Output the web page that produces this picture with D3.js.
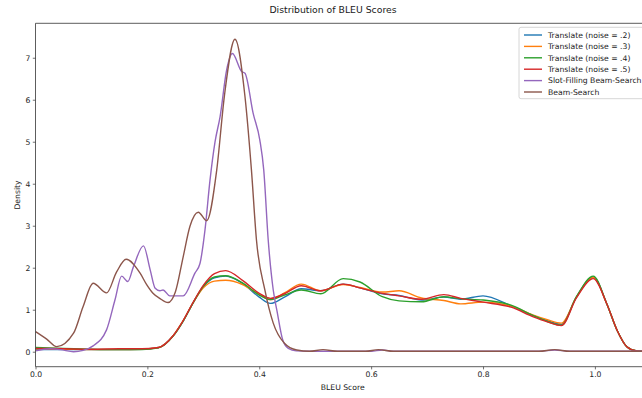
<!DOCTYPE html>
<html>
<head>
<meta charset="utf-8">
<script src="https://cdn.jsdelivr.net/npm/d3@7"></script>
<style>
  html, body { margin: 0; padding: 0; background: #fff; overflow: hidden; }
  svg { display: block; font-family: "DejaVu Sans", sans-serif; }
</style>
</head>
<body>
<svg id="chart" width="642" height="398"></svg>
<script>
// BLEU grid shared by the four "Translate" density curves
const translateX = [0, 0.05, 0.10, 0.15, 0.19, 0.22, 0.246, 0.264, 0.282, 0.30, 0.32, 0.34, 0.37, 0.40, 0.42, 0.445, 0.475, 0.51, 0.55, 0.58, 0.62, 0.65, 0.69, 0.73, 0.76, 0.80, 0.85, 0.89, 0.915, 0.94, 0.967, 0.997, 1.021, 1.04, 1.057, 1.075, 1.10];
const noise2 = [0.06, 0.05, 0.05, 0.05, 0.06, 0.10, 0.38, 0.73, 1.17, 1.55, 1.76, 1.80, 1.63, 1.30, 1.15, 1.30, 1.50, 1.45, 1.61, 1.52, 1.38, 1.34, 1.23, 1.30, 1.25, 1.33, 1.09, 0.86, 0.74, 0.65, 1.30, 1.78, 1.15, 0.50, 0.12, 0.02, 0];
const noise3 = [0.07, 0.06, 0.05, 0.05, 0.06, 0.10, 0.38, 0.74, 1.17, 1.52, 1.68, 1.70, 1.60, 1.36, 1.24, 1.40, 1.61, 1.45, 1.60, 1.53, 1.42, 1.45, 1.28, 1.22, 1.14, 1.18, 1.09, 0.87, 0.76, 0.68, 1.30, 1.77, 1.15, 0.50, 0.12, 0.02, 0];
const noise4 = [0.10, 0.08, 0.06, 0.05, 0.05, 0.09, 0.37, 0.73, 1.17, 1.56, 1.78, 1.81, 1.64, 1.35, 1.24, 1.35, 1.47, 1.38, 1.74, 1.66, 1.31, 1.21, 1.19, 1.31, 1.26, 1.23, 1.11, 0.86, 0.72, 0.63, 1.31, 1.80, 1.15, 0.50, 0.12, 0.02, 0];
const noise5 = [0.08, 0.07, 0.06, 0.07, 0.07, 0.10, 0.38, 0.74, 1.18, 1.58, 1.86, 1.93, 1.70, 1.39, 1.27, 1.38, 1.57, 1.45, 1.61, 1.52, 1.39, 1.33, 1.25, 1.36, 1.27, 1.18, 1.06, 0.83, 0.71, 0.62, 1.28, 1.74, 1.15, 0.50, 0.12, 0.02, 0];

// Slot-Filling Beam-Search density
const slotX = [0, 0.026, 0.045, 0.068, 0.085, 0.103, 0.127, 0.142, 0.154, 0.165, 0.175, 0.193, 0.205, 0.214, 0.2225, 0.228, 0.24, 0.264, 0.285, 0.294, 0.303, 0.312, 0.321, 0.33, 0.3417, 0.352, 0.3685, 0.3745, 0.389, 0.401, 0.408, 0.416, 0.425, 0.432, 0.442, 0.452, 0.466, 0.49, 0.60, 0.62, 0.64, 0.90, 0.928, 0.955, 1.10];
const slotY = [0.02, 0.07, 0.05, 0.0, 0.03, 0.14, 0.52, 1.23, 1.80, 1.67, 2.02, 2.52, 1.95, 1.51, 1.45, 1.47, 1.33, 1.33, 1.87, 2.10, 2.90, 4.09, 5.0, 5.6, 6.71, 7.10, 6.67, 6.63, 5.68, 5.04, 4.33, 2.66, 1.47, 0.95, 0.28, 0.08, 0.02, 0.01, 0.01, 0.04, 0.01, 0.01, 0.04, 0.01, 0.01];

// Beam-Search density
const beamX = [0, 0.02, 0.038, 0.068, 0.085, 0.103, 0.127, 0.145, 0.162, 0.187, 0.199, 0.21, 0.222, 0.237, 0.25, 0.264, 0.276, 0.291, 0.306, 0.324, 0.3375, 0.3566, 0.3745, 0.386, 0.395, 0.41, 0.425, 0.445, 0.467, 0.49, 0.514, 0.54, 0.59, 0.613, 0.64, 0.90, 0.928, 0.955, 1.10];
const beamY = [0.48, 0.30, 0.12, 0.44, 1.07, 1.63, 1.40, 1.90, 2.20, 1.87, 1.59, 1.39, 1.27, 1.17, 1.42, 2.26, 2.98, 3.32, 3.12, 4.33, 6.07, 7.44, 6.07, 4.33, 2.66, 1.47, 0.68, 0.20, 0.04, 0.01, 0.05, 0.01, 0.01, 0.05, 0.01, 0.01, 0.05, 0.01, 0.01];

const seriesNames = ["Translate (noise = .2)", "Translate (noise = .3)", "Translate (noise = .4)", "Translate (noise = .5)", "Slot-Filling Beam-Search", "Beam-Search"];
const seriesColors = ["#1f77b4", "#ff7f0e", "#2ca02c", "#d62728", "#9467bd", "#8c564b"];
const xTicks = [0.0, 0.2, 0.4, 0.6, 0.8, 1.0];
const yTicks = [0, 1, 2, 3, 4, 5, 6, 7];

const series = [
  { x: translateX, y: noise2 },
  { x: translateX, y: noise3 },
  { x: translateX, y: noise4 },
  { x: translateX, y: noise5 },
  { x: slotX, y: slotY },
  { x: beamX, y: beamY }
].map((s, i) => ({ name: seriesNames[i], color: seriesColors[i], points: s.x.map((v, j) => [v, s.y[j]]) }));

const plot = { left: 35.5, right: 650, top: 23.3, bottom: 366.7 };
const x = d3.scaleLinear().domain([0, 1.0985]).range([plot.left, plot.right]);
const y = d3.scaleLinear().domain([-0.357, 7.82]).range([plot.bottom, plot.top]);

const svg = d3.select("#chart");
const fs = 7.7;

svg.append("defs").append("clipPath").attr("id", "plot-clip")
  .append("rect")
  .attr("x", plot.left).attr("y", plot.top)
  .attr("width", plot.right - plot.left).attr("height", plot.bottom - plot.top);

// density curves
const line = d3.line()
  .x(d => x(d[0]))
  .y(d => y(d[1]))
  .curve(d3.curveMonotoneX);

svg.append("g").attr("clip-path", "url(#plot-clip)")
  .selectAll("path")
  .data(series)
  .join("path")
  .attr("d", d => line(d.points))
  .attr("fill", "none")
  .attr("stroke", d => d.color)
  .attr("stroke-width", 1.4)
  .attr("stroke-linejoin", "round");

// axes
const xAxis = d3.axisBottom(x).tickValues(xTicks).tickFormat(d3.format(".1f")).tickSize(2.7).tickPadding(2.5);
const yAxis = d3.axisLeft(y).tickValues(yTicks).tickFormat(d3.format("d")).tickSize(2.7).tickPadding(2.5);

const gx = svg.append("g").attr("transform", `translate(0,${plot.bottom})`).call(xAxis);
const gy = svg.append("g").attr("transform", `translate(${plot.left},0)`).call(yAxis);
[gx, gy].forEach(g => {
  g.select(".domain").remove();
  g.selectAll(".tick line").attr("stroke", "#333").attr("stroke-width", 0.7);
  g.selectAll(".tick text").attr("fill", "#262626").attr("font-size", fs).attr("font-family", "DejaVu Sans");
});

// spines
const spines = svg.append("g").attr("stroke", "#333").attr("stroke-width", 0.8).attr("fill", "none");
spines.append("line").attr("x1", plot.left).attr("x2", plot.left).attr("y1", plot.top).attr("y2", plot.bottom);
spines.append("line").attr("x1", plot.left).attr("x2", plot.right).attr("y1", plot.bottom).attr("y2", plot.bottom);
spines.append("line").attr("x1", plot.left).attr("x2", plot.right).attr("y1", plot.top).attr("y2", plot.top);
spines.append("line").attr("x1", plot.right).attr("x2", plot.right).attr("y1", plot.top).attr("y2", plot.bottom);

// titles
svg.append("text").attr("x", 333).attr("y", 13.2).attr("text-anchor", "middle")
  .attr("font-size", 9.3).attr("fill", "#1a1a1a").text("Distribution of BLEU Scores");
svg.append("text").attr("x", (plot.left + plot.right) / 2).attr("y", 390).attr("text-anchor", "middle")
  .attr("font-size", fs).attr("fill", "#1a1a1a").text("BLEU Score");
svg.append("text").attr("transform", `translate(19.5,${(plot.top + plot.bottom) / 2}) rotate(-90)`)
  .attr("text-anchor", "middle").attr("font-size", fs).attr("fill", "#1a1a1a").text("Density");

// legend
const legend = svg.append("g").attr("transform", "translate(519,27.3)");
legend.append("rect").attr("width", 127).attr("height", 71.4).attr("rx", 2)
  .attr("fill", "#fff").attr("fill-opacity", 0.8).attr("stroke", "#cccccc").attr("stroke-width", 0.8);
const rows = legend.selectAll("g.row").data(series).join("g")
  .attr("class", "row")
  .attr("transform", (d, i) => `translate(0,${7.7 + i * 11.4})`);
rows.append("line").attr("x1", 5).attr("x2", 23).attr("y1", 0).attr("y2", 0)
  .attr("stroke", d => d.color).attr("stroke-width", 1.4);
rows.append("text").attr("x", 29).attr("y", 2.8).attr("font-size", fs).attr("fill", "#1a1a1a")
  .text(d => d.name);
</script>
</body>
</html>
